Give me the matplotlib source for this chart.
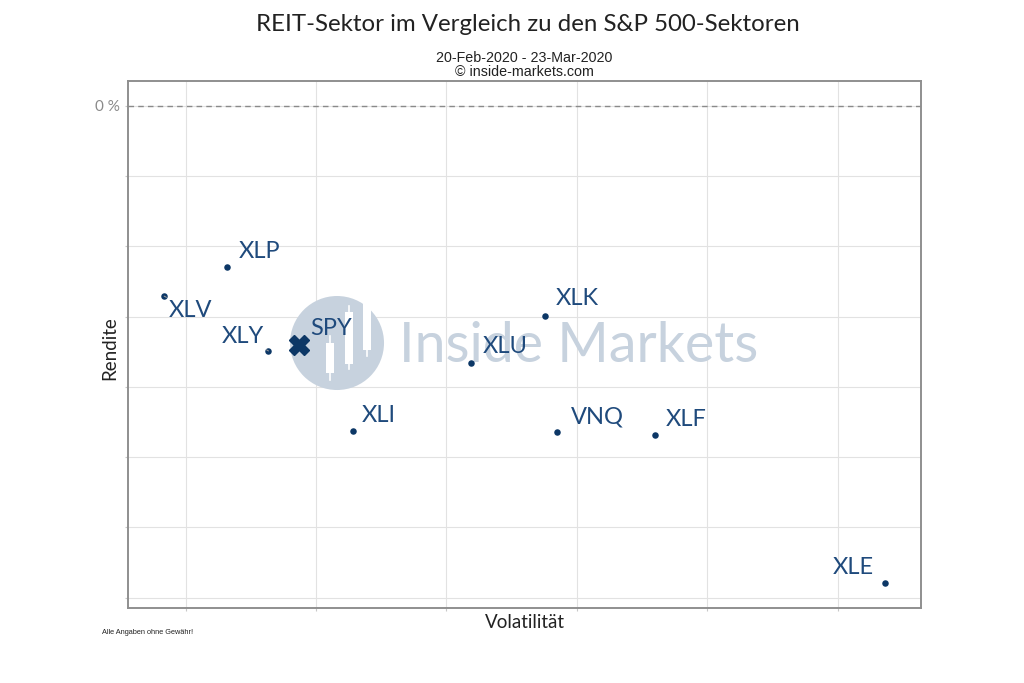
import matplotlib
matplotlib.use('Agg')
from matplotlib import pyplot as plt
from matplotlib.patches import Ellipse, Rectangle

# Volatilitaet (x) und Rendite in % (y)
tickers = ['XLV', 'XLP', 'XLY', 'XLI', 'XLU', 'XLK', 'VNQ', 'XLF', 'XLE']
volatility = [56.7, 66.4, 72.7, 85.6, 103.8, 115.1, 116.9, 132.0, 167.3]
returns = [-27.1, -23.0, -34.9, -46.3, -36.6, -29.9, -46.4, -46.8, -68.0]
spy_vol = 77.4
spy_ret = -34.1

x_ticks = [60, 80, 100, 120, 140, 160]
y_ticks = [0, -10, -20, -30, -40, -50, -60, -70]
y_ticklabels = ['0 %', '', '', '', '', '', '', '']

# label offsets in pixels (dx, dy, ha, segment)
label_pos = {
    'XLV': (5, -21, 'left', True),
    'XLP': (11, 9, 'left', False),
    'XLY': (-4, 8, 'right', True),
    'XLI': (9, 9, 'left', False),
    'XLU': (12, 10, 'left', False),
    'XLK': (11, 11, 'left', False),
    'VNQ': (14, 8, 'left', False),
    'XLF': (11, 9, 'left', False),
    'XLE': (-11, 9, 'right', False),
}

navy = '#0c3766'
lblue = '#1f4a7c'
wm = '#c7d2de'

plt.rcParams['font.family'] = ['Lato', 'DejaVu Sans']

fig = plt.figure(figsize=(10.24, 6.83), dpi=100)
ax = fig.add_axes([0.125, 0.1102, 0.7744, 0.7705])
H = 526.2  # axes height in px

ax.set_xlim(51.15, 172.8)
ax.set_ylim(-71.45, 3.45)

# watermark
ax.add_patch(Ellipse((0.2636, (607.7 - 343) / H), 0.1185, 94 / H, transform=ax.transAxes,
                     color=wm, zorder=1, lw=0))
for cx, b0, b1, w0, w1 in [(330, 343, 373, 336, 380), (349, 312, 364, 306, 369),
                           (367, 303, 350, 297, 356)]:
    fx = (cx - 128) / 793.0
    ax.add_patch(Rectangle((fx - 0.005, (607.7 - b1) / H), 0.01, (b1 - b0) / H,
                           transform=ax.transAxes, color='white', lw=0, zorder=1.1))
    ax.plot([fx, fx], [(607.7 - w1) / H, (607.7 - w0) / H], transform=ax.transAxes,
            color='white', lw=1.2, zorder=1.1)
ax.text(0.5682, (607.7 - 346) / H, 'Inside Markets', transform=ax.transAxes, ha='center',
        va='center', fontsize=40, color=wm, zorder=1)

ax.axhline(0, color='#8a8a8a', ls=(0, (4, 3)), lw=1, zorder=2)

ax.scatter(volatility, returns, s=22, color=navy, zorder=4, lw=0)
ax.plot([spy_vol], [spy_ret], marker='X', markersize=15, color=navy, ls='none', zorder=4)

for t, x, y in zip(tickers, volatility, returns):
    dx, dy, ha, seg = label_pos[t]
    ap = dict(arrowstyle='-', color='#a0a0a0', lw=0.7, shrinkA=0, shrinkB=3) if seg else None
    ax.annotate(t, (x, y), xytext=(dx, dy), textcoords='offset pixels', ha=ha,
                va='baseline', fontsize=17, color=lblue, zorder=5, arrowprops=ap)
ax.annotate('SPY', (spy_vol, spy_ret), xytext=(11, 10), textcoords='offset pixels',
            ha='left', va='baseline', fontsize=17, color=lblue, zorder=5)

ax.set_xticks(x_ticks)
ax.set_xticklabels([''] * len(x_ticks))
ax.set_yticks(y_ticks)
ax.set_yticklabels(y_ticklabels, fontsize=11, color='#8a8a8a')
ax.tick_params(axis='both', length=2, color='#c8c8c8', pad=4)
ax.grid(True, color='#e2e2e2', lw=0.8, zorder=0)
ax.set_axisbelow(True)
for s in ax.spines.values():
    s.set_color('#8f8f8f')
    s.set_linewidth(1.4)

ax.set_xlabel('Volatilität', fontsize=13.5, color='#222222')
ax.set_ylabel('Rendite', fontsize=13.5, color='#222222')
ax.xaxis.set_label_coords(0.5, -0.029)
ax.yaxis.set_label_coords(-0.023, 0.494)
ax.xaxis.label.set_va('center')
ax.yaxis.label.set_va('center')

fig.text(0.5156, 0.955, 'REIT-Sektor im Vergleich zu den S&P 500-Sektoren', ha='center',
         va='baseline', fontsize=17.3, color='#222222')
fig.text(0.5122, 0.9092, '20-Feb-2020 - 23-Mar-2020', ha='center', va='baseline',
         fontsize=10.3, color='#222222', family='Liberation Sans')
fig.text(0.5122, 0.8887, '© inside-markets.com', ha='center', va='baseline',
         fontsize=10.3, color='#222222', family='Liberation Sans')
fig.text(0.0996, 0.074, 'Alle Angaben ohne Gewähr!', ha='left', va='center',
         fontsize=5.3, color='#222222', family='Liberation Sans')

fig.savefig('out.png', dpi=100)
